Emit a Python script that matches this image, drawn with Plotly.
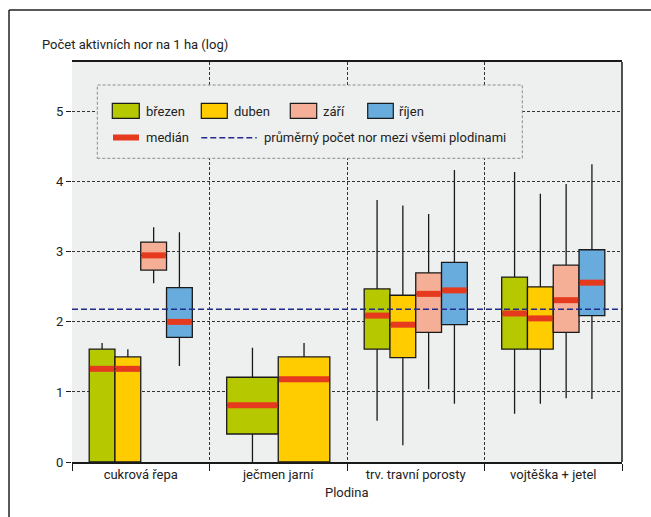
import plotly.graph_objects as go

# ---------------- data ----------------
categories = ["cukrová řepa", "ječmen jarní", "trv. travní porosty", "vojtěška + jetel"]
months = ["březen", "duben", "září", "říjen"]

brezen_q1 = [0.00, 0.40, 1.61, 1.61]
brezen_med = [1.33, 0.81, 2.09, 2.12]
brezen_q3 = [1.61, 1.21, 2.47, 2.64]
brezen_lo = [0.00, 0.00, 0.59, 0.69]
brezen_hi = [1.70, 1.63, 3.74, 4.14]

duben_q1 = [0.00, 0.00, 1.49, 1.61]
duben_med = [1.33, 1.18, 1.96, 2.05]
duben_q3 = [1.50, 1.50, 2.38, 2.50]
duben_lo = [0.00, 0.00, 0.24, 0.83]
duben_hi = [1.61, 1.70, 3.66, 3.83]

zari_q1 = [2.74, None, 1.85, 1.85]
zari_med = [2.95, None, 2.40, 2.31]
zari_q3 = [3.14, None, 2.70, 2.81]
zari_lo = [2.55, None, 1.04, 0.91]
zari_hi = [3.35, None, 3.54, 3.97]

rijen_q1 = [1.78, None, 1.96, 2.09]
rijen_med = [2.00, None, 2.45, 2.56]
rijen_q3 = [2.49, None, 2.85, 3.03]
rijen_lo = [1.37, None, 0.83, 0.90]
rijen_hi = [3.28, None, 4.17, 4.25]

mean_all = 2.18

y_ticks = [0, 1, 2, 3, 4, 5]

# ---------------- style ----------------
colors = ["#B5C800", "#FFCC00", "#F5AF96", "#67ACDC"]
median_color = "#E63A1E"
mean_color = "#1F2A8A"
bg = "#EEF0EF"
FONT = "Roboto, Liberation Sans, sans-serif"
FS = 13

W, H = 651, 517
ML, MR, MT, MB = 72, 29, 62, 55
PW, PH = W - ML - MR, H - MT - MB
YMAX = 5.71
GROUP_W = 0.75


def px_x(x):
    return (x - ML) / PW


def px_y(y):
    return (H - MB - y) / PH


stats = {
    "březen": (brezen_q1, brezen_med, brezen_q3, brezen_lo, brezen_hi),
    "duben": (duben_q1, duben_med, duben_q3, duben_lo, duben_hi),
    "září": (zari_q1, zari_med, zari_q3, zari_lo, zari_hi),
    "říjen": (rijen_q1, rijen_med, rijen_q3, rijen_lo, rijen_hi),
}

fig = go.Figure()

med_x, med_y = [], []
inset = 0.7 / (PW / 4.0)  # keep median inside box outline
for ci, cat in enumerate(categories):
    present = [m for m in months if stats[m][1][ci] is not None]
    n = len(present)
    w = GROUP_W / n
    for k, m in enumerate(present):
        q1, med, q3, lo, hi = (s[ci] for s in stats[m])
        pos = ci + (k - (n - 1) / 2) * w
        col = colors[months.index(m)]
        fig.add_trace(go.Box(
            x=[pos], q1=[q1], median=[med], q3=[q3],
            lowerfence=[lo], upperfence=[hi],
            width=w, whiskerwidth=0,
            fillcolor=col, line=dict(color="#1a1a1a", width=1.3),
            name=m, showlegend=False, hoverinfo="skip",
        ))
        med_x += [pos - w / 2 + inset, pos + w / 2 - inset, None]
        med_y += [med, med, None]

fig.add_trace(go.Scatter(
    x=med_x, y=med_y, mode="lines", showlegend=False, hoverinfo="skip",
    line=dict(color=median_color, width=6),
))

shapes = []
# mean line
shapes.append(dict(type="line", xref="paper", yref="y", x0=0, x1=1,
                   y0=mean_all, y1=mean_all,
                   line=dict(color=mean_color, width=1.5, dash="6px,3px")))
# right border of plot
shapes.append(dict(type="line", xref="paper", yref="paper", x0=1, x1=1, y0=0, y1=1,
                   line=dict(color="#1a1a1a", width=1.5)))
# outer frame (left and top edges; the rest runs off the picture)
shapes.append(dict(type="line", xref="paper", yref="paper",
                   x0=px_x(9), x1=px_x(9), y0=px_y(520), y1=px_y(10),
                   line=dict(color="#222222", width=1.5)))
shapes.append(dict(type="line", xref="paper", yref="paper",
                   x0=px_x(9), x1=px_x(655), y0=px_y(10), y1=px_y(10),
                   line=dict(color="#222222", width=1.5)))
# legend box
shapes.append(dict(type="rect", xref="paper", yref="paper",
                   x0=px_x(97.3), x1=px_x(522.3), y0=px_y(158.3), y1=px_y(85),
                   line=dict(color="#8a8a8a", width=1, dash="3px,2px"), fillcolor=bg))

annotations = []
sw = [(112.3, 139.3, 146), (201.3, 227.3, 234.3), (290.3, 316.7, 322.7), (367.7, 393.3, 399.3)]
for (x0, x1, tx), m, col in zip(sw, months, colors):
    shapes.append(dict(type="rect", xref="paper", yref="paper",
                       x0=px_x(x0), x1=px_x(x1), y0=px_y(118.3), y1=px_y(103.3),
                       line=dict(color="#1a1a1a", width=1.2), fillcolor=col))
    annotations.append(dict(text=m, xref="paper", yref="paper", x=px_x(tx - 2), y=px_y(111),
                            xanchor="left", yanchor="middle", showarrow=False,
                            font=dict(family=FONT, size=FS, color="#222")))
# median legend
shapes.append(dict(type="line", xref="paper", yref="paper",
                   x0=px_x(113), x1=px_x(139), y0=px_y(137.5), y1=px_y(137.5),
                   line=dict(color=median_color, width=6)))
annotations.append(dict(text="medián", xref="paper", yref="paper", x=px_x(144), y=px_y(137.5),
                        xanchor="left", yanchor="middle", showarrow=False,
                        font=dict(family=FONT, size=FS, color="#222")))
shapes.append(dict(type="line", xref="paper", yref="paper",
                   x0=px_x(201.3), x1=px_x(256.7), y0=px_y(137.7), y1=px_y(137.7),
                   line=dict(color=mean_color, width=1.5, dash="6px,3px")))
annotations.append(dict(text="průměrný počet nor mezi všemi plodinami", xref="paper", yref="paper",
                        x=px_x(262.3), y=px_y(137.5),
                        xanchor="left", yanchor="middle", showarrow=False,
                        font=dict(family=FONT, size=FS, color="#222")))
# y title
annotations.append(dict(text="Počet aktivních nor na 1 ha (log)", xref="paper", yref="paper",
                        x=px_x(40), y=px_y(44), xanchor="left", yanchor="middle", showarrow=False,
                        font=dict(family=FONT, size=FS, color="#222")))
# x title
annotations.append(dict(text="Plodina", xref="paper", yref="paper",
                        x=0.5, y=px_y(493), xanchor="center", yanchor="middle", showarrow=False,
                        font=dict(family=FONT, size=FS, color="#222")))

fig.update_layout(
    width=W, height=H,
    margin=dict(l=ML, r=MR, t=MT, b=MB),
    paper_bgcolor="white", plot_bgcolor=bg,
    boxmode="overlay",
    shapes=shapes, annotations=annotations,
    font=dict(family=FONT, size=FS, color="#222"),
    showlegend=False,
)
fig.update_xaxes(
    range=[-0.5, 3.5], tickmode="array", tickvals=list(range(len(categories))),
    ticktext=categories, ticks="", showgrid=False, zeroline=False,
    showline=True, mirror=True, linecolor="#1a1a1a", linewidth=1.5,
    tickfont=dict(family=FONT, size=FS, color="#222"),
    minor=dict(tickmode="array", tickvals=[i - 0.5 for i in range(len(categories) + 1)],
               ticks="outside", ticklen=7, tickcolor="#1a1a1a", tickwidth=1,
               showgrid=True, gridcolor="#333333", griddash="3px,2px", gridwidth=1),
)
fig.update_yaxes(
    range=[0, YMAX], tickmode="array", tickvals=y_ticks, ticks="outside", ticklen=5,
    tickcolor="#1a1a1a", showgrid=True, gridcolor="#333333", griddash="3px,2px", gridwidth=1,
    zeroline=False, showline=False,
    tickfont=dict(family=FONT, size=FS, color="#222"),
)

fig.write_html("out.html", post_script="document.body.style.margin='0';",
               config={"displayModeBar": False})
